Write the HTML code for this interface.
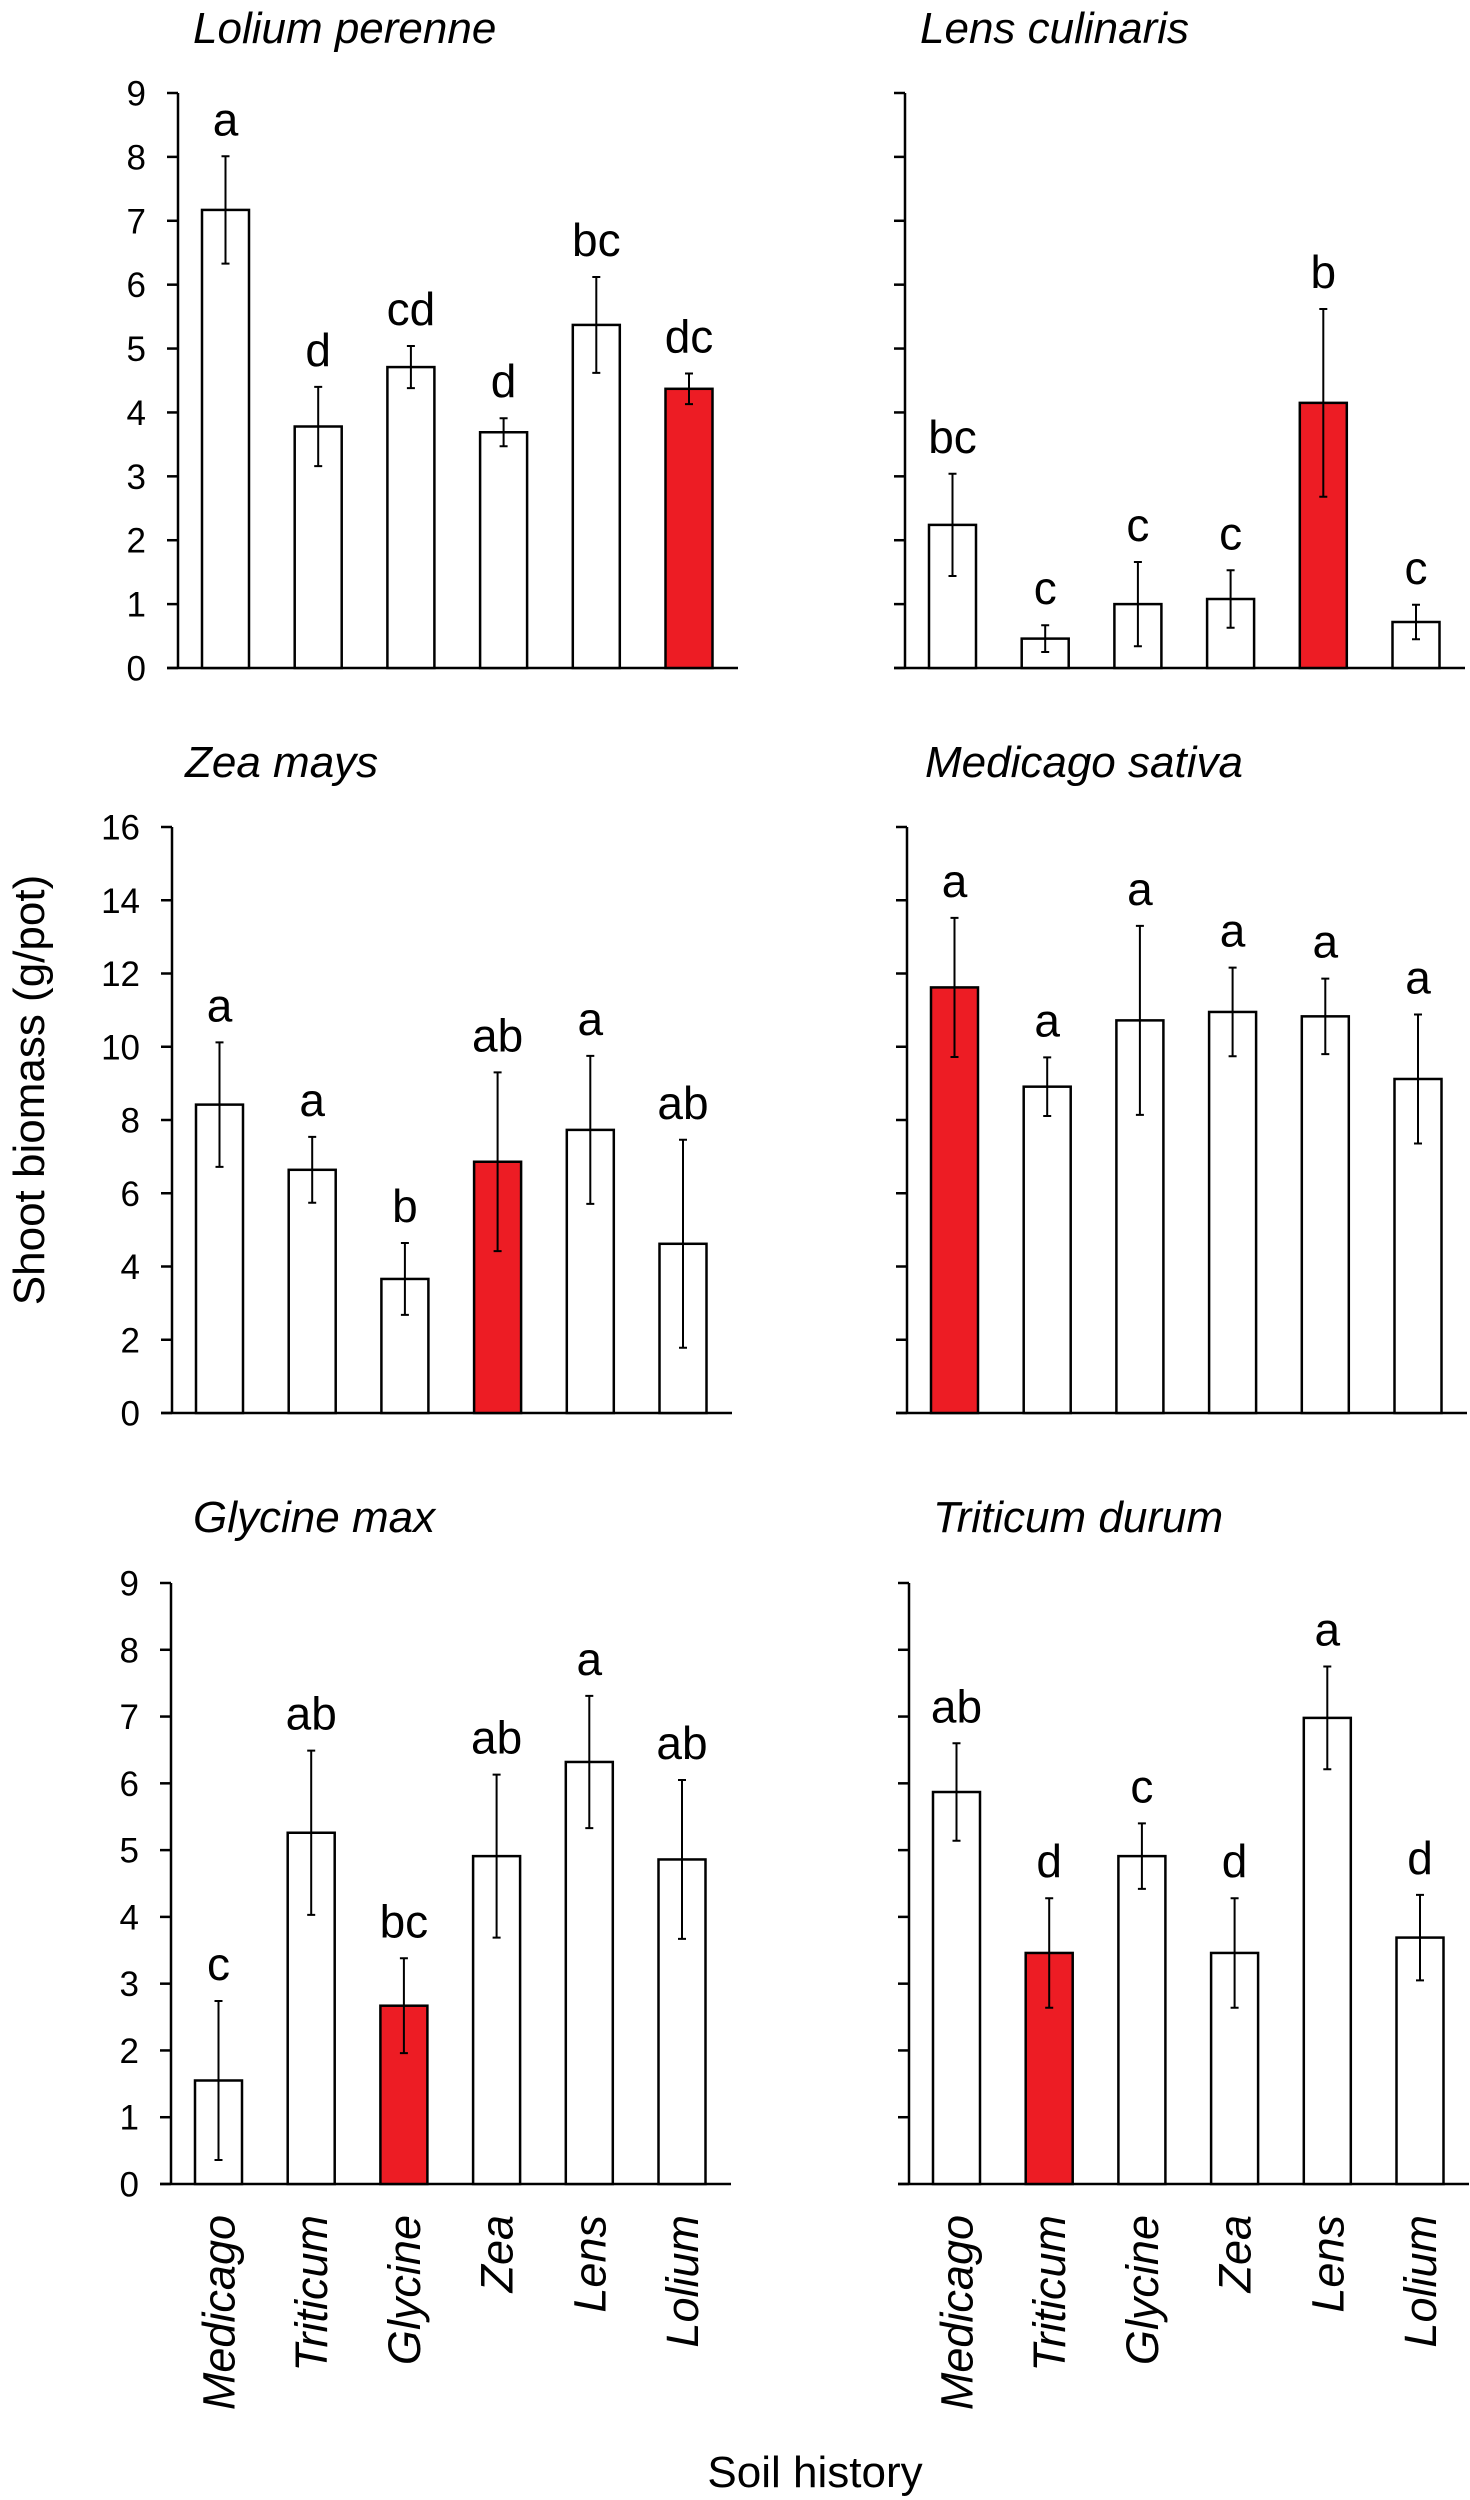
<!DOCTYPE html>
<html><head><meta charset="utf-8"><style>
html,body{margin:0;padding:0;background:#fff}
svg{display:block}
text{font-family:"Liberation Sans",Arial,sans-serif;fill:#000}
</style></head><body>
<svg id="chart" width="1470" height="2500" viewBox="0 0 1470 2500" xmlns="http://www.w3.org/2000/svg">
<text transform="translate(44,1090) rotate(-90)" text-anchor="middle" font-size="44">Shoot biomass (g/pot)</text>
<text x="815" y="2487" text-anchor="middle" font-size="44">Soil history</text>
</svg>
<script>
const categories = ["Medicago","Triticum","Glycine","Zea","Lens","Lolium"];
const loliumMeans = [7.17, 3.78, 4.71, 3.69, 5.37, 4.37];
const loliumErr = [0.84, 0.62, 0.33, 0.22, 0.75, 0.24];
const loliumLetters = ["a","d","cd","d","bc","dc"];
const lensMeans = [2.24, 0.46, 1.0, 1.08, 4.15, 0.72];
const lensErr = [0.8, 0.21, 0.66, 0.45, 1.47, 0.27];
const lensLetters = ["bc","c","c","c","b","c"];
const zeaMeans = [8.42, 6.64, 3.66, 6.86, 7.73, 4.62];
const zeaErr = [1.7, 0.9, 0.98, 2.44, 2.02, 2.84];
const zeaLetters = ["a","a","b","ab","a","ab"];
const medicagoMeans = [11.62, 8.91, 10.72, 10.95, 10.83, 9.12];
const medicagoErr = [1.9, 0.8, 2.58, 1.21, 1.03, 1.76];
const medicagoLetters = ["a","a","a","a","a","a"];
const glycineMeans = [1.55, 5.26, 2.67, 4.91, 6.32, 4.86];
const glycineErr = [1.19, 1.23, 0.71, 1.22, 0.99, 1.19];
const glycineLetters = ["c","ab","bc","ab","a","ab"];
const triticumMeans = [5.87, 3.46, 4.91, 3.46, 6.98, 3.69];
const triticumErr = [0.73, 0.82, 0.49, 0.82, 0.77, 0.64];
const triticumLetters = ["ab","d","c","d","a","d"];
const yTicks9 = [0,1,2,3,4,5,6,7,8,9];
const yTicks16 = [0,2,4,6,8,10,12,14,16];

const NS = "http://www.w3.org/2000/svg";
const svg = document.getElementById('chart');
function mk(tag, attrs, parent){
  const e = document.createElementNS(NS, tag);
  for (const k in attrs) e.setAttribute(k, attrs[k]);
  (parent||svg).appendChild(e);
  return e;
}
function panel(p){
  const g = mk('g', {});
  
  
  const yScale = v => p.y0 - (v / p.ymax) * (p.y0 - p.yTop);
  const xCenter = i => p.axisX + 24 + 23.5 + i * 92.7;
  const t = mk('text', {x:p.titleX, y:p.titleY, 'font-size':44, 'font-style':'italic'}, g);
  t.textContent = p.title;
  
  
  const ax = mk('line', {x1:p.axisX, y1:p.yTop, x2:p.axisX, y2:p.y0, stroke:'#000','stroke-width':2.5}, g);
  
  
  const xa = mk('line', {x1:p.axisX-11, y1:p.y0, x2:p.axisX+560, y2:p.y0, stroke:'#000','stroke-width':2.5}, g);
  
  
  p.ticks.forEach(v => {
    const y = yScale(v);
    const tk = mk('line', {x1:p.axisX-11, y1:y, x2:p.axisX, y2:y, stroke:'#000','stroke-width':2.5}, g);
    
    
    if (p.showTickLabels){
      const tl = mk('text', {x:p.axisX-32, y:y+12.5, 'text-anchor':'end','font-size':35}, g);
      tl.textContent = v;
      
      
    }
  });
  p.means.forEach((v, i) => {
    const cx = xCenter(i);
    const top = yScale(v);
    const r = mk('rect', {x:cx-23.5, y:top, width:47, height:p.y0-top, fill:(i===p.red?'#ED1C24':'#fff'), stroke:'#000','stroke-width':2.5}, g);
    
    
    const eTop = yScale(v + p.err[i]), eBot = yScale(v - p.err[i]);
    const el = mk('path', {d:`M${cx},${eTop}V${eBot}M${cx-4},${eTop}H${cx+4}M${cx-4},${eBot}H${cx+4}`, stroke:'#000','stroke-width':2,fill:'none'}, g);
    
    
    const lt = mk('text', {x:cx, y:eTop-21, 'text-anchor':'middle','font-size':46}, g);
    lt.textContent = p.letters[i];
    
    
    if (p.xLabels){
      const xl = mk('text', {transform:`translate(${cx+16},${p.y0+31}) rotate(-90)`, 'text-anchor':'end','font-size':45,'font-style':'italic'}, g);
      xl.textContent = categories[i];
      
      
    }
  });
}
panel({name:'lolium-perenne', title:'Lolium perenne', titleX:193, titleY:43, axisX:178, yTop:93, y0:668, ymax:9, ticks:yTicks9, showTickLabels:true, means:loliumMeans, err:loliumErr, letters:loliumLetters, red:5});
panel({name:'lens-culinaris', title:'Lens culinaris', titleX:920, titleY:43, axisX:905, yTop:93, y0:668, ymax:9, ticks:yTicks9, showTickLabels:false, means:lensMeans, err:lensErr, letters:lensLetters, red:4});
panel({name:'zea-mays', title:'Zea mays', titleX:185, titleY:777, axisX:172, yTop:827, y0:1413, ymax:16, ticks:yTicks16, showTickLabels:true, means:zeaMeans, err:zeaErr, letters:zeaLetters, red:3});
panel({name:'medicago-sativa', title:'Medicago sativa', titleX:925, titleY:777, axisX:907, yTop:827, y0:1413, ymax:16, ticks:yTicks16, showTickLabels:false, means:medicagoMeans, err:medicagoErr, letters:medicagoLetters, red:0});
panel({name:'glycine-max', title:'Glycine max', titleX:193, titleY:1532, axisX:171, yTop:1583, y0:2184, ymax:9, ticks:yTicks9, showTickLabels:true, means:glycineMeans, err:glycineErr, letters:glycineLetters, red:2, xLabels:true});
panel({name:'triticum-durum', title:'Triticum durum', titleX:933, titleY:1532, axisX:909, yTop:1583, y0:2184, ymax:9, ticks:yTicks9, showTickLabels:false, means:triticumMeans, err:triticumErr, letters:triticumLetters, red:1, xLabels:true});
</script>
</body></html>
